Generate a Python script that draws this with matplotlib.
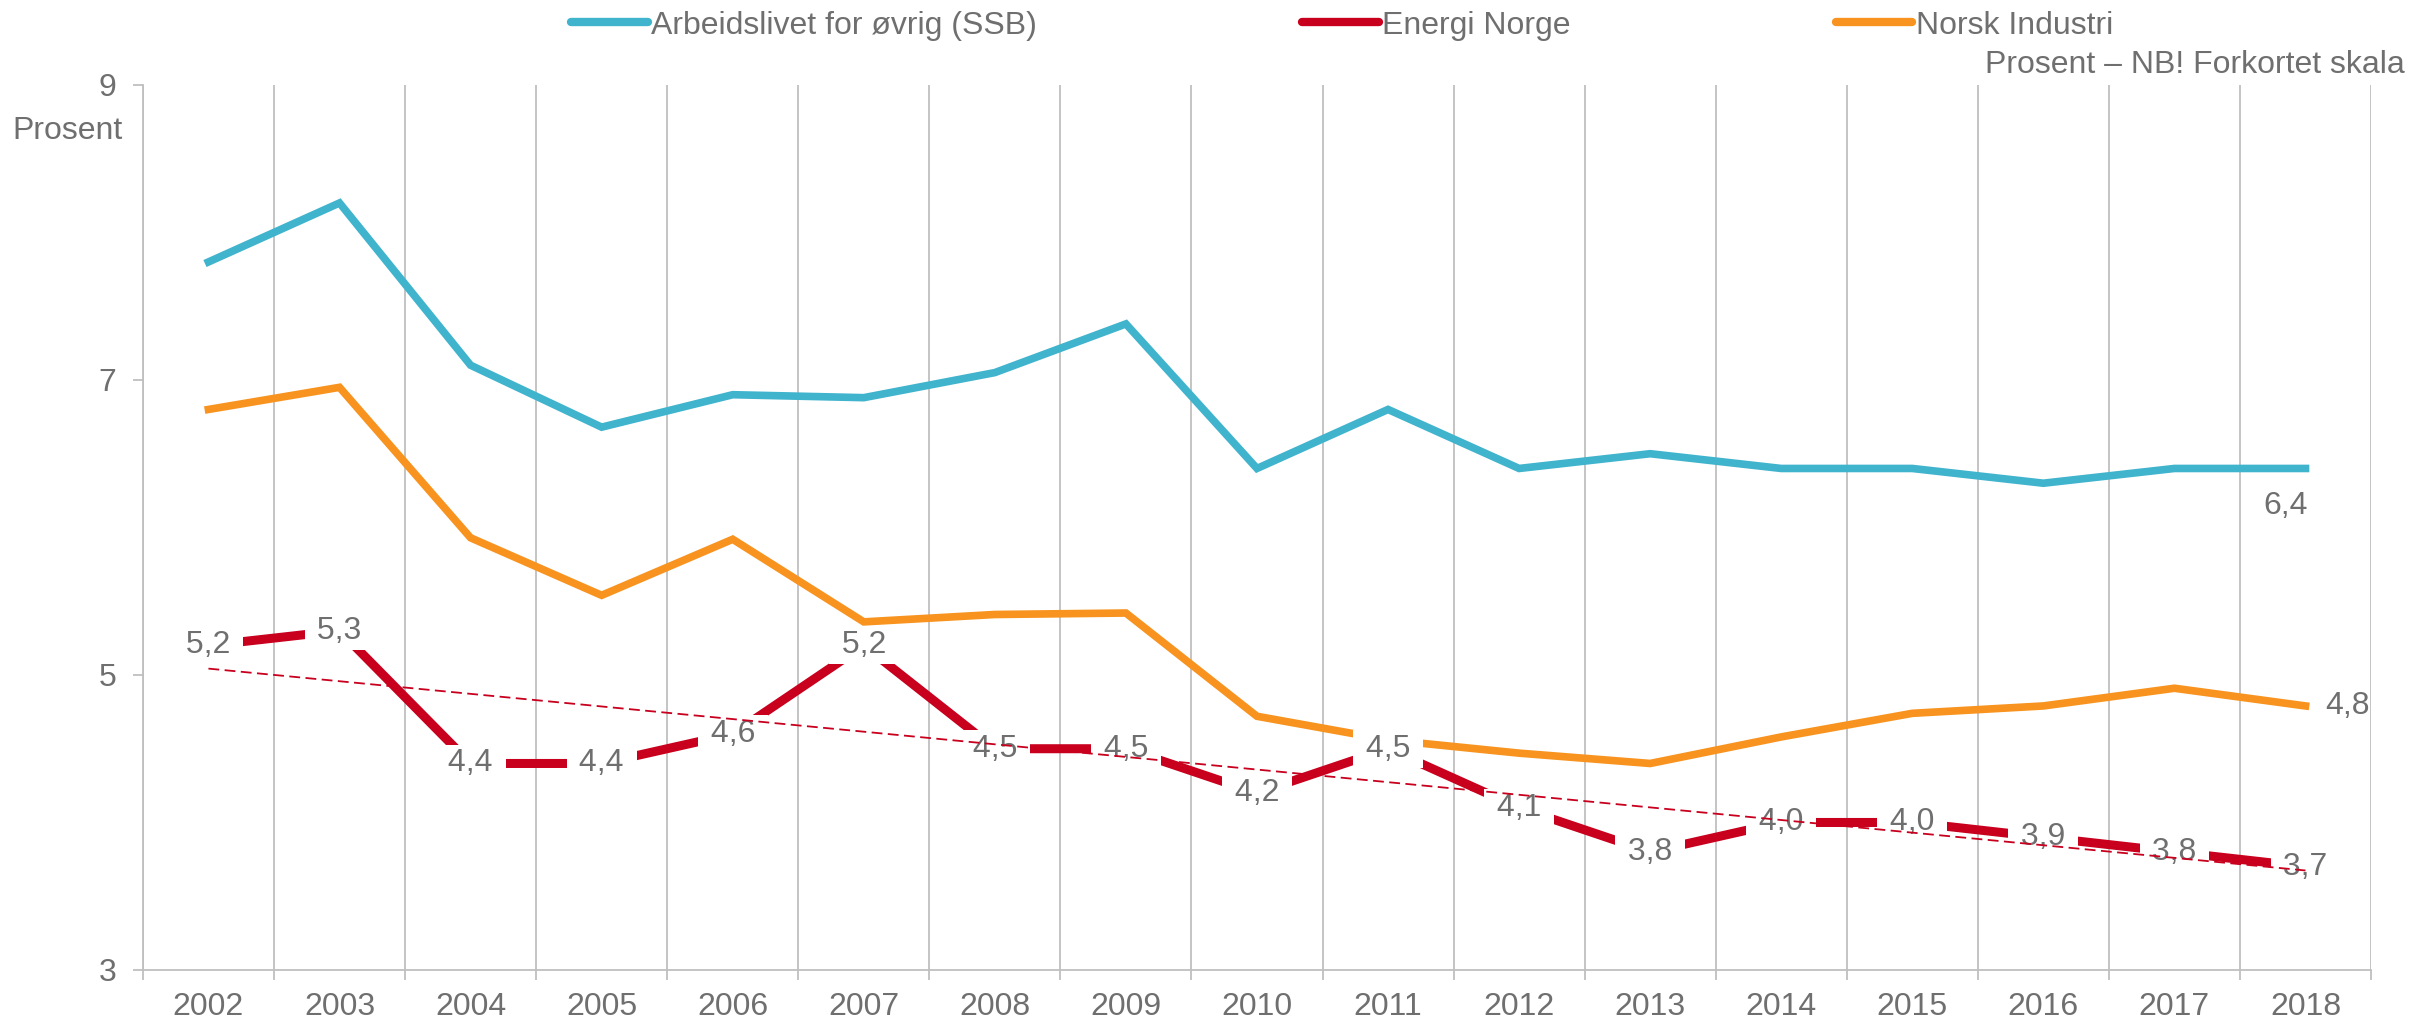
import matplotlib
matplotlib.use("Agg")
import matplotlib.pyplot as plt
from matplotlib import font_manager
import numpy as np

# data
years = list(range(2002, 2019))
ssb = [7.8, 8.2, 7.1, 6.68, 6.9, 6.88, 7.05, 7.38, 6.4, 6.8, 6.4, 6.5, 6.4, 6.4, 6.3, 6.4, 6.4]
energi = [5.2, 5.3, 4.4, 4.4, 4.6, 5.2, 4.5, 4.5, 4.2, 4.5, 4.1, 3.8, 4.0, 4.0, 3.9, 3.8, 3.7]
industri = [6.8, 6.95, 5.93, 5.54, 5.92, 5.36, 5.41, 5.42, 4.72, 4.56, 4.47, 4.40, 4.58, 4.74, 4.79, 4.91, 4.79]

BLUE = "#40B3CD"
RED = "#C8001E"
ORANGE = "#F7931E"
GREY_TXT = "#6F6F6F"
GRID = "#BFBFBF"

# pick a narrow font if it exists
names = {f.name for f in font_manager.fontManager.ttflist}
if "Liberation Sans Narrow" in names:
    plt.rcParams["font.family"] = ["Liberation Sans Narrow", "DejaVu Sans"]
    FS = 25
else:
    plt.rcParams["font.family"] = ["Liberation Sans", "DejaVu Sans"]
    FS = 23


def fmt(v):
    return f"{v:.1f}".replace(".", ",")


fig = plt.figure(figsize=(24.14, 10.26), dpi=100)
ax = fig.add_axes([0.0592, 0.0546, 0.9230, 0.8626])

x = np.arange(len(years))
ax.plot(x, ssb, color=BLUE, lw=5.5, solid_joinstyle="miter", zorder=3,
        label="Arbeidslivet for øvrig (SSB)")
ax.plot(x, energi, color=RED, lw=6.5, solid_joinstyle="miter", zorder=3,
        label="Energi Norge")
ax.plot(x, industri, color=ORANGE, lw=5.5, solid_joinstyle="miter", zorder=3,
        label="Norsk Industri")

# linear trend for Energi Norge
k, m = np.polyfit(x, energi, 1)
ax.plot(x[[0, -1]], k * x[[0, -1]] + m, color=RED, lw=1.3,
        dashes=(6, 3), zorder=6)

# data labels
for xi, v in zip(x, energi):
    ax.annotate(" " + fmt(v) + " ", (xi, v), ha="center", va="center",
                fontsize=FS, color=GREY_TXT, zorder=5,
                bbox=dict(boxstyle="square,pad=0.12", fc="white", ec="none"))
ax.annotate(fmt(ssb[-1]), (x[-1], ssb[-1]), xytext=(-14, -27),
            textcoords="offset points", ha="center", va="center",
            fontsize=FS, color=GREY_TXT, zorder=5)
ax.annotate(fmt(industri[-1]), (x[-1], industri[-1]), xytext=(14, 0),
            textcoords="offset points", ha="left", va="center",
            fontsize=FS, color=GREY_TXT, zorder=5)

# axes
ax.set_xlim(-0.5, len(years) - 0.5)
ax.set_ylim(3, 9)
ax.set_yticks([3, 5, 7, 9])
ax.set_xticks(x)
ax.set_xticklabels([str(y) for y in years])
ax.set_xticks(np.arange(-0.5, len(years)), minor=True)
ax.tick_params(axis="x", which="major", length=0, pad=16, labelsize=FS,
               labelcolor=GREY_TXT)
ax.tick_params(axis="x", which="minor", length=7, width=1.3, color=GRID)
ax.tick_params(axis="y", length=7, width=1.3, color=GRID, pad=12,
               labelsize=FS, labelcolor=GREY_TXT)
ax.grid(axis="x", which="minor", color=GRID, lw=1.3, zorder=0)
for s in ["top", "right"]:
    ax.spines[s].set_visible(False)
for s in ["left", "bottom"]:
    ax.spines[s].set_color(GRID)
    ax.spines[s].set_linewidth(1.3)

fig.text(0.005, 1 - 131 / 1026, "Prosent", fontsize=FS, color=GREY_TXT,
         ha="left", va="center")
fig.text(0.996, 1 - 65 / 1026, "Prosent – NB! Forkortet skala", fontsize=FS,
         color=GREY_TXT, ha="right", va="center")

leg = fig.legend(loc="center", bbox_to_anchor=(0.556, 0.975), ncol=3,
                 frameon=False, fontsize=FS, handlelength=2.4,
                 handletextpad=0.1, columnspacing=8.3, labelcolor=GREY_TXT)
for h in leg.legend_handles:
    h.set_linewidth(6)
    h.set_solid_capstyle("round")

fig.savefig("out.png", dpi=100)
